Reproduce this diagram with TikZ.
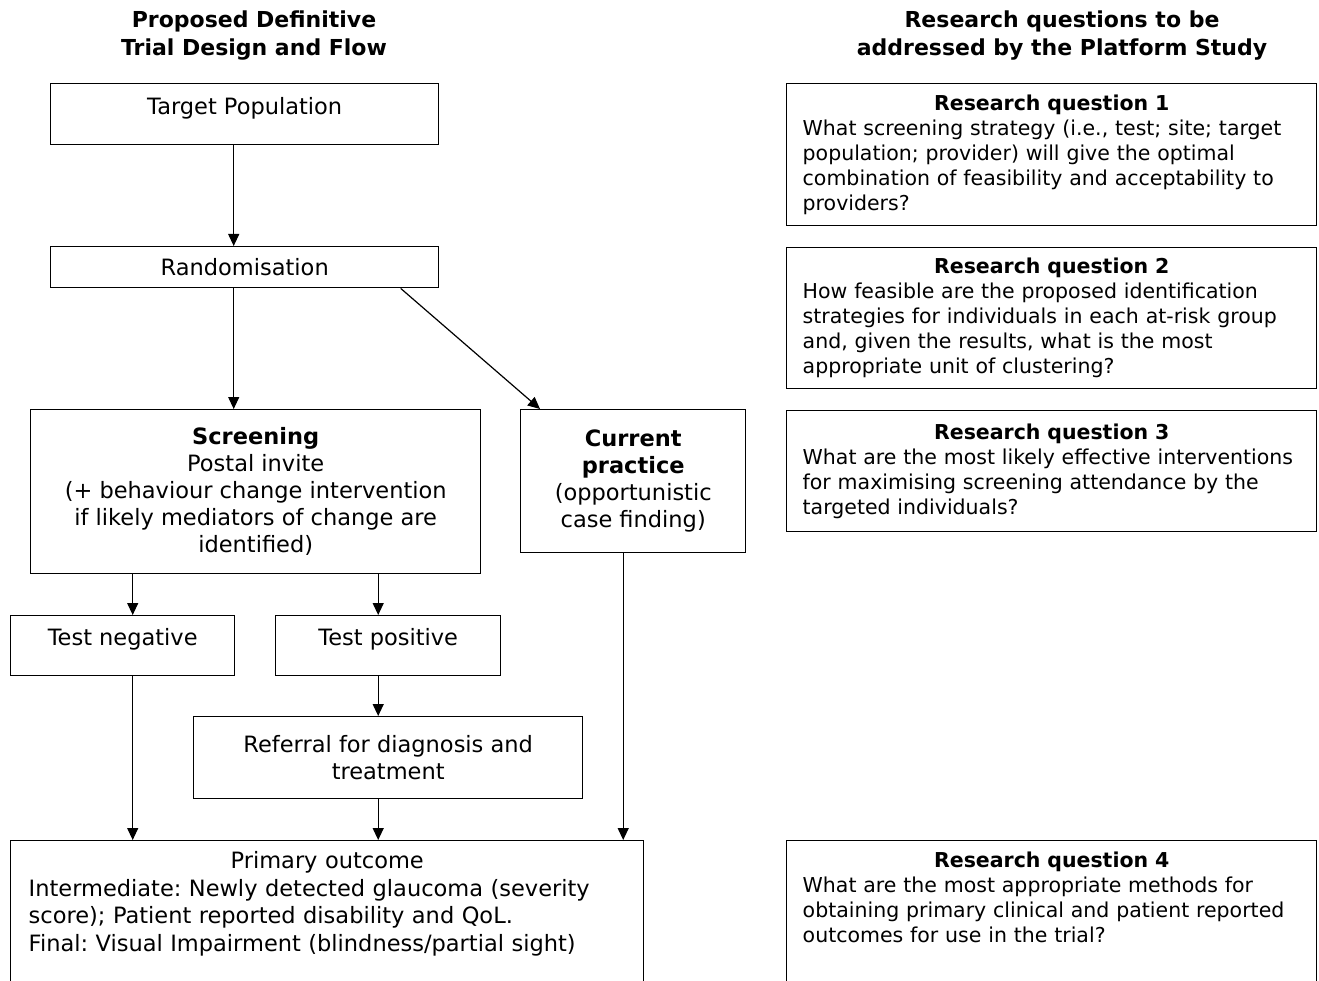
\documentclass[tikz,border=0pt]{standalone}
\usepackage{fontspec}
\setmainfont{DejaVu Sans}
\usetikzlibrary{arrows.meta,positioning}
\tikzset{
  flow/.style={-{Triangle[length=12pt,width=11pt]},line width=1.2pt},
  box/.style={draw=black,line width=1.4pt,inner sep=0pt,anchor=north west,align=center,
              font=\fontsize{22.5}{27}\selectfont\frenchspacing},
  topbox/.style={box,text height=30pt,text depth=30pt},
  question/.style={box,inner xsep=16pt,text width=498pt,minimum width=530pt,align=left,
              font=\fontsize{20.5}{25}\selectfont\frenchspacing},
  heading/.style={font=\fontsize{22}{28}\selectfont\bfseries,align=center},
}

\begin{document}
\begin{tikzpicture}[x=1pt,y=-1pt]
  \clip (0,0) rectangle (1319,981);
  \fill[white] (0,0) rectangle (1319,981);

  \node[heading] (lefthead) at (254,36) {Proposed Definitive\\Trial Design and Flow};
  \node[heading] (righthead) at (1062,36) {Research questions to be\\addressed by the Platform Study};

  % trial flow
  \node[topbox,minimum width=388pt,minimum height=61pt] (target) at (50,83) {Target Population};
  \node[box,minimum width=388pt,minimum height=41pt] (random) at (50,246) {Randomisation};
  \node[box,minimum width=450pt,minimum height=164pt] (screen) at (30,409)
    {\textbf{Screening}\\Postal invite\\(+ behaviour change intervention\\if likely mediators of change are\\identified)};
  \node[box,minimum width=225pt,minimum height=143pt] (current) at (520,409)
    {\textbf{Current}\\\textbf{practice}\\(opportunistic\\case finding)};
  \node[topbox,minimum width=224pt,minimum height=60pt] (tneg) at (10,615) {Test negative};
  \node[topbox,minimum width=225pt,minimum height=60pt] (tpos) at (275,615) {Test positive};
  \node[box,minimum width=389pt,minimum height=82pt] (refer) at (193,716)
    {Referral for diagnosis and\\treatment};
  \node[box,inner xsep=18pt,inner ysep=11pt,text width=597pt,align=left,
        font=\fontsize{22.5}{27.5}\selectfont\frenchspacing] (outcome) at (10,840)
    {\centerline{Primary outcome}\\Intermediate: Newly detected glaucoma (severity\\score); Patient reported disability and QoL.\\Final: Visual Impairment (blindness/partial sight)\\~\\~};

  \draw[flow] ([xshift=-11pt]target.south) -- ([xshift=-11pt]random.north);
  \draw[flow] ([xshift=-11pt]random.south) -- ([xshift=-11pt]random.south |- screen.north);
  \draw[flow] ([xshift=156pt]random.south) -- ([xshift=20pt]current.north west);
  \draw[flow] ([xshift=10pt]tneg.north |- screen.south) -- ([xshift=10pt]tneg.north);
  \draw[flow] ([xshift=-10pt]tpos.north |- screen.south) -- ([xshift=-10pt]tpos.north);
  \draw[flow] ([xshift=-10pt]tpos.south) -- ([xshift=-10pt]tpos.south |- refer.north);
  \draw[flow] ([xshift=10pt]tneg.south) -- ([xshift=10pt]tneg.south |- outcome.north);
  \draw[flow] ([xshift=-10pt]tpos.south |- refer.south) -- ([xshift=-10pt]tpos.south |- outcome.north);
  \draw[flow] ([xshift=-10pt]current.south) -- ([xshift=-10pt]current.south |- outcome.north);

  % research questions
  \node[question,minimum height=142pt] (rq1) at (786,83)
    {\centerline{\bfseries Research question 1}\\What screening strategy (i.e., test; site; target\\population; provider) will give the optimal\\combination of feasibility and acceptability to\\providers?};
  \node[question,minimum height=141pt] (rq2) at (786,247)
    {\centerline{\bfseries Research question 2}\\How feasible are the proposed identification\\strategies for individuals in each at-risk group\\and, given the results, what is the most\\appropriate unit of clustering?};
  \node[question,minimum height=121pt] (rq3) at (786,410)
    {\centerline{\bfseries Research question 3}\\What are the most likely effective interventions\\for maximising screening attendance by the\\targeted individuals?};
  \node[question,inner ysep=11pt] (rq4) at (786,840)
    {\centerline{\bfseries Research question 4}\\What are the most appropriate methods for\\obtaining primary clinical and patient reported\\outcomes for use in the trial?\\~\\~\\~};
\end{tikzpicture}
\end{document}
